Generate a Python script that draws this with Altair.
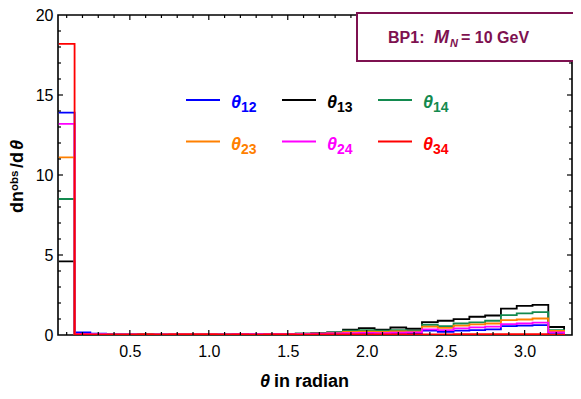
import altair as alt
import pandas as pd

# ---------------- data ----------------
bin_left = [0.05, 0.15, 0.25, 0.35, 0.45, 0.55, 0.65, 0.75, 0.85, 0.95,
            1.05, 1.15, 1.25, 1.35, 1.45, 1.55, 1.65, 1.75, 1.85, 1.95,
            2.05, 2.15, 2.25, 2.35, 2.45, 2.55, 2.65, 2.75, 2.85, 2.95,
            3.05, 3.15]
bin_end = 3.25

theta12 = [13.9, 0.17, 0.08, 0.05, 0.03, 0.03, 0.02, 0.03, 0.02, 0.03,
           0.02, 0.02, 0.03, 0.03, 0.03, 0.04, 0.05, 0.06, 0.06, 0.07,
           0.08, 0.10, 0.12, 0.27, 0.19, 0.27, 0.31, 0.35, 0.56, 0.58,
           0.62, 0.06]
theta13 = [4.6, 0.05, 0.04, 0.03, 0.03, 0.03, 0.03, 0.04, 0.04, 0.05,
           0.05, 0.04, 0.05, 0.06, 0.07, 0.08, 0.12, 0.17, 0.33, 0.43,
           0.33, 0.47, 0.39, 0.81, 0.89, 0.99, 1.14, 1.22, 1.65, 1.82,
           1.88, 0.50]
theta14 = [8.5, 0.05, 0.03, 0.03, 0.02, 0.02, 0.03, 0.03, 0.03, 0.04,
           0.04, 0.05, 0.05, 0.05, 0.06, 0.08, 0.12, 0.17, 0.27, 0.31,
           0.27, 0.31, 0.27, 0.64, 0.56, 0.72, 0.79, 0.89, 1.24, 1.35,
           1.43, 0.31]
theta23 = [11.1, 0.06, 0.04, 0.03, 0.03, 0.03, 0.04, 0.06, 0.06, 0.05,
           0.04, 0.04, 0.04, 0.05, 0.05, 0.07, 0.09, 0.12, 0.20, 0.21,
           0.20, 0.22, 0.21, 0.52, 0.45, 0.58, 0.66, 0.72, 0.93, 0.97,
           1.03, 0.25]
theta24 = [13.2, 0.07, 0.05, 0.03, 0.03, 0.02, 0.03, 0.03, 0.03, 0.04,
           0.04, 0.05, 0.06, 0.05, 0.06, 0.06, 0.08, 0.10, 0.12, 0.13,
           0.12, 0.14, 0.17, 0.35, 0.31, 0.41, 0.48, 0.52, 0.68, 0.72,
           0.77, 0.17]
theta34 = [18.2, 0.03, 0.02, 0.02, 0.02, 0.03, 0.02, 0.03, 0.04, 0.03,
           0.02, 0.03, 0.02, 0.03, 0.03, 0.02, 0.03, 0.03, 0.03, 0.03,
           0.03, 0.04, 0.03, 0.04, 0.04, 0.05, 0.05, 0.06, 0.06, 0.06,
           0.06, 0.02]

series_names = ["12", "13", "14", "23", "24", "34"]
series_values = [theta12, theta13, theta14, theta23, theta24, theta34]
series_colors = ["#0000FF", "#000000", "#138A4F", "#FF8000", "#FF00FF", "#FF0000"]

x_major = [0.5, 1.0, 1.5, 2.0, 2.5, 3.0]
x_minor = [0.1, 0.2, 0.3, 0.4, 0.6, 0.7, 0.8, 0.9, 1.1, 1.2, 1.3, 1.4,
           1.6, 1.7, 1.8, 1.9, 2.1, 2.2, 2.3, 2.4, 2.6, 2.7, 2.8, 2.9,
           3.1, 3.2]
y_major = [5, 10, 15]
y_minor = [1, 2, 3, 4, 6, 7, 8, 9, 11, 12, 13, 14, 16, 17, 18, 19]
y_labels = [0, 5, 10, 15, 20]

x_title_sym = "θ"
x_title_rest = "in radian"
annot_parts = ["BP1:", "M", "N", "= 10 GeV"]

# ---------------- layout ----------------
W, H = 514, 320
FONT = "Liberation Sans"
MAROON = "#7E1150"
xs = alt.Scale(domain=[0.045, 3.3], nice=False, zero=False)
ys = alt.Scale(domain=[0, 20], nice=False, zero=False)
one = pd.DataFrame({"a": [0]})

XA = alt.Axis(values=x_major, format=".1f", tickSize=0, domain=False,
              grid=False, labelFont=FONT, labelFontSize=16,
              labelPadding=8, labelColor="black", labelFlush=False,
              labelOverlap=False, title=None)
YA = alt.Axis(values=y_labels, format="d", tickSize=0, domain=False,
              grid=False, labelFont=FONT, labelFontSize=16,
              labelPadding=5, labelColor="black", labelFlush=False,
              labelOverlap=False, title=None)

layers = []

# histogram step lines
for name, vals, col in zip(series_names, series_values, series_colors):
    df = pd.DataFrame({"x": bin_left + [bin_end], "y": vals + [0]})
    layers.append(
        alt.Chart(df).mark_line(interpolate="step-after", color=col,
                                strokeWidth=1.8, clip=True).encode(
            x=alt.X("x:Q", scale=xs, axis=XA),
            y=alt.Y("y:Q", scale=ys, axis=YA),
        )
    )

# frame ticks (inward, all four sides)
def xticks(vals, length):
    d = pd.DataFrame({"x": vals})
    bot = alt.Chart(d).mark_rule(color="black", strokeWidth=1.2).encode(
        x=alt.X("x:Q", scale=xs, axis=XA), y=alt.value(H), y2=alt.value(H - length))
    top = alt.Chart(d).mark_rule(color="black", strokeWidth=1.2).encode(
        x=alt.X("x:Q", scale=xs, axis=XA), y=alt.value(0), y2=alt.value(length))
    return [bot, top]

def yticks(vals, length):
    d = pd.DataFrame({"y": vals})
    lef = alt.Chart(d).mark_rule(color="black", strokeWidth=1.2).encode(
        y=alt.Y("y:Q", scale=ys, axis=YA), x=alt.value(0), x2=alt.value(length))
    rig = alt.Chart(d).mark_rule(color="black", strokeWidth=1.2).encode(
        y=alt.Y("y:Q", scale=ys, axis=YA), x=alt.value(W), x2=alt.value(W - length))
    return [lef, rig]

layers += xticks(x_major, 5) + xticks(x_minor, 3) + yticks(y_major, 5) + yticks(y_minor, 3)

# legend
col_x = [128, 224, 320]
row_y = [85, 126.5]
for k, (name, col) in enumerate(zip(series_names, series_colors)):
    cx = col_x[k % 3]
    ry = row_y[k // 3]
    layers.append(alt.Chart(one).mark_rule(color=col, strokeWidth=2.2).encode(
        x=alt.value(cx), x2=alt.value(cx + 34), y=alt.value(ry)))
    layers.append(alt.Chart(one).mark_text(
        text="θ", font=FONT, fontSize=18, fontWeight="bold", fontStyle="italic",
        color=col, align="left", baseline="alphabetic").encode(
        x=alt.value(cx + 45), y=alt.value(ry + 8)))
    layers.append(alt.Chart(one).mark_text(
        text=name, font=FONT, fontSize=14, fontWeight="bold",
        color=col, align="left", baseline="alphabetic").encode(
        x=alt.value(cx + 55), y=alt.value(ry + 12)))

# annotation box
layers.append(alt.Chart(one).mark_rect(fill="white", stroke=MAROON, strokeWidth=2).encode(
    x=alt.value(299), x2=alt.value(W + 2), y=alt.value(-2), y2=alt.value(46)))
ann_x = [330, 376, 392, 403]
ann_y = [27.7, 27.7, 31.5, 27.7]
ann_size = [16, 18, 11, 16]
ann_style = ["normal", "italic", "italic", "normal"]
for t, ax_, ay_, sz, st in zip(annot_parts, ann_x, ann_y, ann_size, ann_style):
    layers.append(alt.Chart(one).mark_text(
        text=t, font=FONT, fontSize=sz, fontWeight="bold", fontStyle=st,
        color=MAROON, align="left", baseline="alphabetic").encode(
        x=alt.value(ax_), y=alt.value(ay_)))

# x-axis title
layers.append(alt.Chart(one).mark_text(
    text=x_title_sym, font=FONT, fontSize=18, fontWeight="bold", fontStyle="italic",
    color="black", align="left", baseline="alphabetic").encode(
    x=alt.value(202), y=alt.value(372)))
layers.append(alt.Chart(one).mark_text(
    text=x_title_rest, font=FONT, fontSize=18, fontWeight="bold",
    color="black", align="left", baseline="alphabetic").encode(
    x=alt.value(216), y=alt.value(372)))

# y-axis title  dn^obs/dθ  (rotated)
ytitle_parts = ["dn", "obs", "/d", "θ"]
yt_x = [-35, -40, -35, -35]
yt_y = [198, 176, 153, 135]
yt_size = [18, 11.5, 18, 18]
yt_style = ["normal", "normal", "normal", "italic"]
for t, tx, ty, sz, st in zip(ytitle_parts, yt_x, yt_y, yt_size, yt_style):
    layers.append(alt.Chart(one).mark_text(
        text=t, font=FONT, fontSize=sz, fontWeight="bold", fontStyle=st,
        color="black", align="left", baseline="alphabetic", angle=270).encode(
        x=alt.value(tx), y=alt.value(ty)))

chart = alt.layer(*layers).properties(
    width=W, height=H,
    autosize=alt.AutoSizeParams(type="none"),
    padding={"left": 50, "top": 7, "right": 1, "bottom": 56},
    background="white",
).configure_view(stroke="black", strokeWidth=1.6)

chart.save("out.html", embed_options={"renderer": "svg", "actions": False})
